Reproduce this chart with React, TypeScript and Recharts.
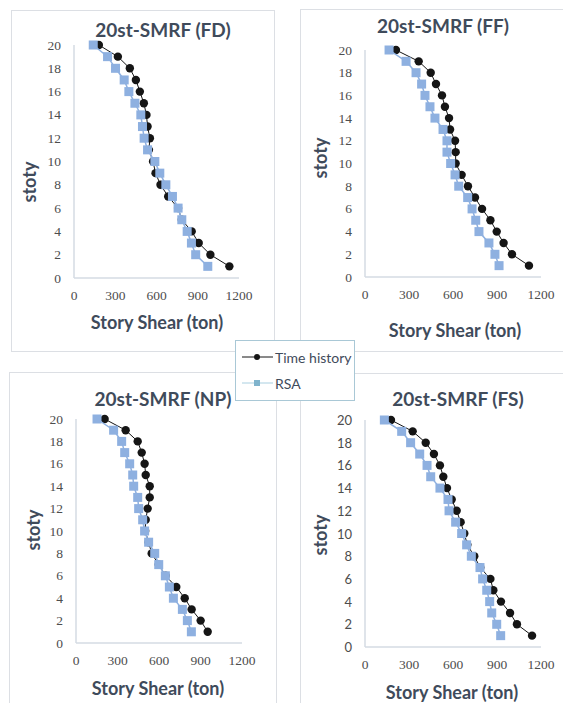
import { ScatterChart, Scatter, XAxis, YAxis } from "recharts";

// stories from top (20) down to 1
const STORIES = [20, 19, 18, 17, 16, 15, 14, 13, 12, 11, 10, 9, 8, 7, 6, 5, 4, 3, 2, 1];
const X_TICKS = [0, 300, 600, 900, 1200];
const Y_TICKS = [0, 2, 4, 6, 8, 10, 12, 14, 16, 18, 20];

// story shear (ton), same order as STORIES
const FD_TH = [181, 319, 406, 450, 479, 508, 527, 535, 552, 545, 575, 593, 629, 685, 757, 784, 856, 907, 992, 1130];
const FD_RSA = [140, 244, 302, 365, 399, 443, 486, 498, 510, 535, 588, 624, 668, 716, 757, 784, 823, 854, 885, 973];

const FF_TH = [211, 366, 448, 484, 525, 545, 573, 580, 614, 618, 618, 659, 702, 750, 798, 855, 898, 945, 1002, 1118];
const FF_RSA = [164, 280, 348, 386, 409, 443, 477, 532, 559, 559, 584, 614, 639, 700, 730, 755, 777, 845, 886, 914];

const NP_TH = [207, 359, 446, 475, 496, 504, 533, 533, 518, 504, 500, 525, 547, 598, 648, 725, 786, 836, 901, 952];
const NP_RSA = [152, 272, 330, 352, 388, 410, 417, 446, 453, 482, 496, 525, 569, 598, 646, 675, 704, 769, 805, 834];

const FS_TH = [177, 325, 414, 470, 511, 534, 559, 591, 625, 652, 677, 698, 745, 786, 855, 875, 927, 989, 1036, 1139];
const FS_RSA = [132, 250, 311, 373, 423, 448, 511, 566, 573, 618, 659, 693, 725, 784, 802, 830, 850, 864, 898, 925];

const TEXT = "#3f4b5b";
const TICK = "#4d4d4d";
const AXIS = "#d5dbe3";
const BORDER = "#dcdfe4";
const TH_COLOR = "#151515";
const RSA_COLOR = "#8eb0e0";
const SERIF = '"Liberation Serif", "Times New Roman", Times, serif';
const SANS = "Lato, sans-serif";

const toRows = (vals: number[]) => STORIES.map((s, i) => ({ story: s, shear: vals[i] }));

type Panel = {
  title: string;
  th: number[];
  rsa: number[];
  box: { l: number; t: number; w: number; h: number };
  plot: { l: number; t: number; r: number; b: number };
  titleAt: [number, number];
  xTitleAt: [number, number];
  yTitleAt: [number, number];
  sansY?: boolean;
};

const PANELS: Panel[] = [
  {
    title: "20st-SMRF (FD)", th: FD_TH, rsa: FD_RSA,
    box: { l: 11, t: 10, w: 264, h: 342 },
    plot: { l: 74, t: 45, r: 239, b: 278 },
    titleAt: [163, 29], xTitleAt: [157, 322], yTitleAt: [29, 182],
  },
  {
    title: "20st-SMRF (FF)", th: FF_TH, rsa: FF_RSA,
    box: { l: 300, t: 9, w: 280, h: 343 },
    plot: { l: 365, t: 50, r: 541, b: 277 },
    titleAt: [443, 25], xTitleAt: [455, 330], yTitleAt: [320, 158],
  },
  {
    title: "20st-SMRF (NP)", th: NP_TH, rsa: NP_RSA,
    box: { l: 9, t: 372, w: 268, h: 360 },
    plot: { l: 76, t: 419, r: 242, b: 643 },
    titleAt: [163, 398], xTitleAt: [158, 688], yTitleAt: [33, 530],
  },
  {
    title: "20st-SMRF (FS)", th: FS_TH, rsa: FS_RSA,
    box: { l: 300, t: 373, w: 280, h: 360 },
    plot: { l: 365, t: 420, r: 541, b: 647 },
    titleAt: [458, 398], xTitleAt: [452, 692], yTitleAt: [320, 535], sansY: true,
  },
];

const Dot = (p: any) => <circle cx={p.cx} cy={p.cy} r={4.2} fill={TH_COLOR} />;
const Square = (p: any) => <rect x={p.cx - 4.5} y={p.cy - 4.5} width={9} height={9} fill={RSA_COLOR} />;

const XTick = (p: any) => (
  <text
    x={p.x}
    y={p.y + 5}
    textAnchor="middle"
    dominantBaseline="central"
    fontFamily={SERIF}
    style={{ fontFamily: SERIF, fontSize: 13.5, fill: TICK }}
  >
    {p.payload.value}
  </text>
);

const makeYTick = (sans?: boolean) => (p: any) => (
  <text
    x={p.x}
    y={p.y}
    textAnchor="end"
    dominantBaseline="central"
    fontFamily={sans ? SANS : SERIF}
    style={{ fontFamily: sans ? SANS : SERIF, fontSize: sans ? 13 : 13.5, fill: TICK }}
  >
    {p.payload.value}
  </text>
);

function Centered({ at, children, style }: { at: [number, number]; children: any; style?: any }) {
  return (
    <div
      style={{
        position: "absolute",
        left: at[0],
        top: at[1],
        transform: "translate(-50%, -50%)",
        whiteSpace: "nowrap",
        fontFamily: SANS,
        fontWeight: 700,
        color: TEXT,
        ...style,
      }}
    >
      {children}
    </div>
  );
}

function PanelChart({ p }: { p: Panel }) {
  const yW = 50;
  const padR = 30;
  const w = p.plot.r - p.plot.l + yW + padR;
  const h = p.plot.b - p.plot.t + 10 + 30;
  return (
    <>
      <div
        style={{
          position: "absolute",
          left: p.box.l,
          top: p.box.t,
          width: p.box.w,
          height: p.box.h,
          border: `1.5px solid ${BORDER}`,
          boxSizing: "border-box",
          background: "#fff",
        }}
      />
      <Centered at={p.titleAt} style={{ fontSize: 19 }}>{p.title}</Centered>
      <Centered at={p.xTitleAt} style={{ fontSize: 18 }}>Story Shear (ton)</Centered>
      <Centered at={p.yTitleAt} style={{ fontSize: 18, transform: "translate(-50%, -50%) rotate(-90deg)" }}>
        stoty
      </Centered>
      <div style={{ position: "absolute", left: p.plot.l - yW, top: p.plot.t - 10 }}>
        <ScatterChart width={w} height={h} margin={{ top: 10, right: padR, bottom: 0, left: 0 }}>
          <XAxis
            type="number"
            dataKey="shear"
            domain={[0, 1200]}
            ticks={X_TICKS}
            interval={0}
            height={30}
            tickLine={false}
            tickMargin={6}
            axisLine={{ stroke: AXIS, strokeWidth: 1.5 }}
            tick={XTick}
          />
          <YAxis
            type="number"
            dataKey="story"
            domain={[0, 20]}
            ticks={Y_TICKS}
            interval={0}
            width={yW}
            tickLine={false}
            tickMargin={7}
            axisLine={{ stroke: AXIS, strokeWidth: 1.5 }}
            tick={makeYTick(p.sansY)}
          />
          <Scatter
            name="Time history"
            data={toRows(p.th)}
            fill={TH_COLOR}
            line={{ stroke: TH_COLOR, strokeWidth: 1 }}
            shape={Dot}
            isAnimationActive={false}
          />
          <Scatter
            name="RSA"
            data={toRows(p.rsa)}
            fill={RSA_COLOR}
            line={{ stroke: RSA_COLOR, strokeWidth: 1.5 }}
            shape={Square}
            isAnimationActive={false}
          />
        </ScatterChart>
      </div>
    </>
  );
}

function Legend() {
  return (
    <div
      style={{
        position: "absolute",
        left: 235,
        top: 340,
        width: 120,
        height: 61,
        background: "#fff",
        border: "1px solid #a9c8d6",
        boxSizing: "border-box",
      }}
    >
      <svg width={40} height={61} style={{ position: "absolute", left: 5, top: 0 }}>
        <line x1={1} x2={32} y1={16} y2={16} stroke={TH_COLOR} strokeWidth={1} />
        <circle cx={16} cy={16} r={3} fill={TH_COLOR} />
        <line x1={1} x2={32} y1={42} y2={42} stroke="#a9cfe0" strokeWidth={1} />
        <rect x={13} y={39} width={6} height={6} fill="#7fb3cc" />
      </svg>
      {["Time history", "RSA"].map((t, i) => (
        <div
          key={t}
          style={{
            position: "absolute",
            left: 39,
            top: 16 + i * 26,
            transform: "translateY(-50%)",
            fontFamily: SANS,
            fontSize: 14,
            color: TEXT,
            whiteSpace: "nowrap",
          }}
        >
          {t}
        </div>
      ))}
    </div>
  );
}

export default function App() {
  return (
    <div
      style={{
        position: "absolute",
        left: 0,
        top: 0,
        width: 563,
        height: 703,
        overflow: "hidden",
        background: "#fff",
      }}
    >
      {PANELS.map((p) => (
        <PanelChart key={p.title} p={p} />
      ))}
      <Legend />
    </div>
  );
}
